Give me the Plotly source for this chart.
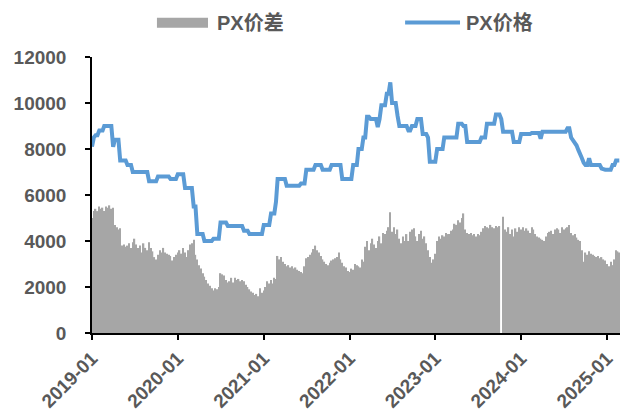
import plotly.graph_objects as go
import pandas as pd

# ---- data: 4 observations per month (evenly spaced quarters of each month), Jan 2019 - Feb 2025 ----
months = pd.date_range("2019-01-01", "2025-02-01", freq="MS")
dates = []
for m in months:
    span = (m + pd.offsets.MonthBegin(1)) - m
    for k in range(4):
        dates.append(m + span * k / 4)

price_2019 = [8100, 8500, 8600, 8600, 8800, 8800, 8800, 9000, 9000, 9000, 9000, 9000,
              8100, 8400, 8400, 8400, 7500, 7500, 7500, 7500, 7300, 7300, 7300, 7000,
              7000, 7000, 7000, 7000, 7000, 7000, 7000, 7000, 6600, 6600, 6600, 6600,
              6600, 6800, 6800, 6800, 6800, 6800, 6800, 6800, 6700, 6700, 6700, 6700]
price_2020 = [6900, 6900, 6900, 6900, 6300, 6300, 6300, 6300, 6300, 5500, 5500, 4300,
              4300, 4300, 4300, 4000, 4000, 4000, 4000, 4000, 4100, 4100, 4100, 4100,
              4800, 4800, 4800, 4800, 4650, 4650, 4650, 4650, 4650, 4650, 4650, 4650,
              4650, 4450, 4450, 4450, 4300, 4300, 4300, 4300, 4300, 4300, 4300, 4300]
price_2021 = [4700, 4700, 4700, 4700, 5200, 5200, 5200, 5700, 6700, 6700, 6700, 6700,
              6700, 6400, 6400, 6400, 6400, 6400, 6400, 6400, 6400, 6500, 6500, 6500,
              7100, 7100, 7100, 7100, 7100, 7300, 7300, 7300, 7300, 7100, 7100, 7100,
              7100, 7100, 7300, 7300, 7300, 7300, 7300, 7300, 6700, 6700, 6700, 6700]
price_2022 = [6700, 6700, 7300, 7300, 7300, 8000, 8000, 8000, 8500, 8500, 9400, 9400,
              9300, 9300, 9300, 9300, 8950, 9300, 9900, 9900, 9900, 10400, 10400, 10900,
              10000, 10000, 10000, 9450, 9000, 9000, 9000, 9000, 9000, 8800, 8800, 9000,
              9000, 9000, 9300, 9300, 9300, 8650, 8650, 8650, 8500, 7450, 7450, 7450]
price_2023 = [7450, 8000, 8000, 8000, 8000, 8500, 8500, 8500, 8500, 8500, 8500, 8500,
              8500, 9100, 9100, 9100, 9000, 9000, 8300, 8300, 8300, 8300, 8300, 8300,
              8300, 8300, 8500, 8500, 8500, 9100, 9100, 9100, 9100, 9100, 9500, 9500,
              9500, 9300, 8750, 8750, 8750, 8750, 8750, 8750, 8300, 8300, 8300, 8300]
price_2024 = [8650, 8650, 8650, 8650, 8650, 8650, 8700, 8700, 8700, 8700, 8700, 8450,
              8750, 8750, 8750, 8750, 8750, 8750, 8750, 8750, 8750, 8750, 8750, 8750,
              8750, 8750, 8900, 8900, 8500, 8400, 8300, 8150, 7950, 7800, 7600, 7400,
              7300, 7300, 7600, 7300, 7300, 7300, 7300, 7300, 7300, 7150, 7100, 7100]
price_2025 = [7100, 7100, 7100, 7300, 7300, 7500, 7500, 7500]

spread_2019 = [5000, 5300, 5400, 5300, 5500, 5400, 5450, 5300, 5500, 5450, 5550, 5400,
               5450, 4700, 4600, 4500, 4550, 3800, 3850, 3750, 3800, 3900, 3700, 3950,
               4100, 3850, 3700, 3800, 3500, 3900, 3700, 3600, 3950, 3700, 3550, 3300,
               3200, 3400, 3600, 3500, 3700, 3500, 3450, 3400, 3350, 3150, 3300, 3400]
spread_2020 = [3500, 3600, 3450, 3700, 3500, 3300, 3600, 3850, 3900, 4050, 3400, 3200,
               2950, 2800, 2600, 2450, 2300, 2150, 2050, 1950, 1850, 1950, 1900, 2000,
               2600, 2550, 2500, 2300, 2200, 2250, 2400, 2200, 2400, 2300, 2350, 2250,
               2300, 2250, 2100, 2000, 1900, 1800, 1750, 1650, 1700, 1600, 1950, 1750]
spread_2021 = [1850, 2000, 2250, 2150, 2300, 2150, 2400, 2350, 3350, 3200, 3300, 3100,
               3000, 2900, 2950, 2850, 2900, 2800, 2850, 2750, 2700, 2650, 2600, 2900,
               3250, 3300, 3400, 3500, 3650, 3800, 3600, 3500, 3350, 3200, 3100, 3000,
               2950, 3050, 3150, 3200, 3250, 3300, 3500, 3200, 3050, 2900, 2850, 2700]
spread_2022 = [2650, 2800, 2750, 3000, 2950, 2900, 2850, 3200, 3100, 3750, 4000, 3600,
               3900, 4100, 3850, 3700, 4000, 4200, 3900, 4350, 4300, 4450, 4600, 5250,
               4400, 4600, 4300, 4500, 4100, 3900, 4200, 4000, 4300, 4000, 4400, 4500,
               4550, 4200, 4000, 4300, 4450, 4100, 4200, 3900, 3600, 3300, 3050, 3200]
spread_2023 = [3450, 4000, 4200, 4100, 4250, 4200, 4350, 4300, 4300, 4450, 4500, 4750,
               4700, 4900, 4800, 5000, 5200, 4500, 4350, 4300, 4350, 4250, 4300, 4200,
               4300, 4250, 4400, 4550, 4650, 4600, 4550, 4700, 4600, 4550, 4650, 4600,
               4650, None, 5050, 4500, 4400, 4600, 4300, 4500, 4200, 4550, 4400, 4600]
spread_2024 = [4500, 4600, 4450, 4550, 4450, 4350, 4600, 4500, 4300, 4200, 4150, 4100,
               4050, 4000, 4200, 4350, 4400, 4450, 4300, 4500, 4550, 4500, 4350, 4600,
               4500, 4550, 4600, 4700, 4350, 4250, 4300, 4150, 4050, 4000, 3600, 3100,
               3500, 3400, 3550, 3450, 3400, 3350, 3300, 3350, 3250, 3300, 3200, 3150]
spread_2025 = [3000, 2900, 3100, 2950, 3200, 3600, 3550, 3500]

price = price_2019 + price_2020 + price_2021 + price_2022 + price_2023 + price_2024 + price_2025
spread = spread_2019 + spread_2020 + spread_2021 + spread_2022 + spread_2023 + spread_2024 + spread_2025

series_names = ["PX价差", "PX价格"]
bar_color = "#A6A6A6"
line_color = "#5B9BD5"
text_color = "#595959"
font_family = "Liberation Sans, Arial, Noto Sans CJK SC, sans-serif"

fig = go.Figure()
fig.add_bar(x=dates, y=spread, name=series_names[0], marker=dict(color=bar_color, line=dict(width=0)))
fig.add_scatter(x=dates, y=price, name=series_names[1], mode="lines",
                line=dict(color=line_color, width=4))

axis_font = dict(family=font_family, size=19, color=text_color, weight="bold")

fig.update_layout(
    width=620, height=416,
    margin=dict(l=92, r=0, t=57, b=83, autoexpand=False),
    paper_bgcolor="white", plot_bgcolor="white",
    showlegend=False, bargap=0.2,
    xaxis=dict(
        type="date", range=["2019-01-01", "2025-02-25"], automargin=False,
        tick0="2019-01-01", dtick="M12", tickformat="%Y-%m", tickangle=-45,
        ticks="outside", ticklen=5, tickwidth=1.5, tickcolor="black",
        showline=True, linecolor="black", linewidth=1.5, showgrid=False, zeroline=False,
        tickfont=axis_font,
    ),
    yaxis=dict(
        range=[0, 12000], dtick=2000, tick0=0, tickformat="d", automargin=False,
        ticks="outside", ticklen=5, tickwidth=1.5, tickcolor="black",
        showline=True, linecolor="black", linewidth=1.5, showgrid=False, zeroline=False,
        tickfont=axis_font, ticklabelstandoff=15,
    ),
)

# custom legend (swatches + labels) above the plot
legend_font = dict(family=font_family, size=20, color=text_color, weight="bold")
fig.add_shape(type="rect", xref="paper", yref="paper",
              x0=0.123, x1=0.2197, y0=1.106, y1=1.142,
              fillcolor=bar_color, line=dict(width=0))
fig.add_shape(type="line", xref="paper", yref="paper",
              x0=0.593, x1=0.697, y0=1.125, y1=1.125,
              line=dict(color=line_color, width=4))
fig.add_annotation(text=series_names[0], xref="paper", yref="paper", x=0.233, y=1.125,
                   xanchor="left", yanchor="middle", showarrow=False, font=legend_font)
fig.add_annotation(text=series_names[1], xref="paper", yref="paper", x=0.705, y=1.125,
                   xanchor="left", yanchor="middle", showarrow=False, font=legend_font)

# remove the page's default body margin so the 620x416 figure fills the window exactly
fig.write_html("out.html",
               config={"displayModeBar": False},
               post_script="document.body.style.margin='0';document.body.style.overflow='hidden';")
